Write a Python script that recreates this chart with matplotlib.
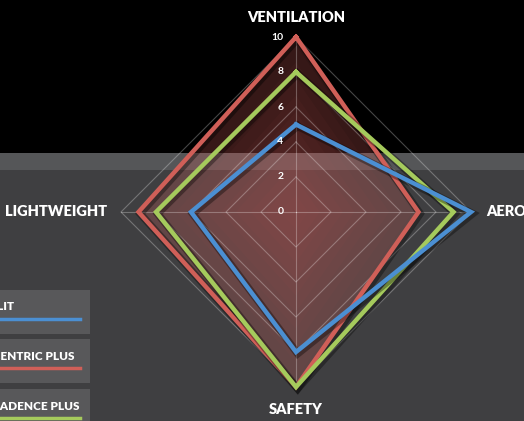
import numpy as np
import matplotlib
matplotlib.use("Agg")
import matplotlib.pyplot as plt
import matplotlib.patheffects as pe
from matplotlib.patches import Rectangle

# chart data
categories = ['VENTILATION', 'AERO', 'SAFETY', 'LIGHTWEIGHT']
series_names = ['SPLIT', 'CONCENTRIC PLUS', 'CADENCE PLUS']
split = [5, 10, 8, 6]
concentric_plus = [10, 7, 10, 9]
cadence_plus = [8, 9, 10, 8]
r_ticks = [0, 2, 4, 6, 8, 10]

BLUE = '#4b8fd2'
RED = '#d05f58'
GREEN = '#a5ca5c'

W, H = 524, 421
fig = plt.figure(figsize=(W / 100, H / 100), dpi=100)
fig.patch.set_facecolor('#3f3f41')

def fy(py):
    # pixel row -> figure fraction
    return 1 - py / H

# background bands
fig.patches.append(Rectangle((0, fy(153)), 1, 153 / H, transform=fig.transFigure,
                             facecolor='black', edgecolor='none', zorder=-10))
fig.patches.append(Rectangle((0, fy(170)), 1, 17 / H, transform=fig.transFigure,
                             facecolor='#555658', edgecolor='none', zorder=-10))

# radar axes, center (296, 212), radius 175 px
cx, cy, rad = 296, 212, 175
ax = fig.add_axes([(cx - rad) / W, fy(cy + rad), 2 * rad / W, 2 * rad / H], projection='polar')
ax.set_facecolor('none')
ax.set_theta_zero_location('N')
ax.set_theta_direction(-1)
ax.set_ylim(0, 10)
ax.grid(False)
ax.spines['polar'].set_visible(False)
ax.set_xticks([])
ax.set_yticks([])

theta = np.arange(len(categories)) * 2 * np.pi / len(categories)
tc = np.append(theta, theta[0])

def closed(v):
    return np.append(v, v[0])

# diamond grid + spokes
for r in r_ticks[1:]:
    ax.plot(tc, [r] * 5, color='white', alpha=0.28, lw=0.8, zorder=1, clip_on=False)
for t in theta:
    ax.plot([t, t], [0, 10], color='white', alpha=0.28, lw=0.8, zorder=1, clip_on=False)

# gradient-ish fill of the red series
red_v = closed(concentric_plus)
ax.fill(tc, red_v, color=RED, alpha=0.24, lw=0, zorder=0.5)
for s in np.linspace(0.95, 0.1, 10):
    ax.fill(tc, red_v * s, color=RED, alpha=0.035, lw=0, zorder=0.5)

shadow = [pe.SimpleLineShadow(offset=(1.2, -1.2), shadow_color='black', alpha=0.35, linewidth=5.5),
          pe.Normal()]
for vals, col in [(concentric_plus, RED), (cadence_plus, GREEN), (split, BLUE)]:
    ax.plot(tc, closed(vals), color=col, lw=3.2, solid_joinstyle='miter',
            zorder=3, clip_on=False, path_effects=shadow)

# radial tick labels
for r in r_ticks:
    ax.annotate(str(r), xy=(0, r), xytext=(-9, 0), textcoords='offset points',
                ha='right', va='center', color='white', fontsize=7.5,
                fontweight='bold', family='Lato', zorder=4, annotation_clip=False)

# category labels
lab = dict(color='white', fontsize=10.5, fontweight='heavy', family='Lato')
fig.text(cx / W, fy(17), categories[0], ha='center', va='center', **lab)
fig.text(486 / W, fy(212), categories[1], ha='left', va='center', **lab)
fig.text(cx / W, fy(410), categories[2], ha='center', va='center', **lab)
fig.text(107 / W, fy(212), categories[3], ha='right', va='center', **lab)

# legend boxes (partly off the left edge)
box_tops = [290, 339, 389]
text_ends = [15, 74, 80]
for name, col, top, te in zip(series_names, [BLUE, RED, GREEN], box_tops, text_ends):
    fig.patches.append(Rectangle((0, fy(top + 44)), 90 / W, 44 / H, transform=fig.transFigure,
                                 facecolor='#58585a', edgecolor='none', zorder=-5))
    fig.text(te / W, fy(top + 17), name, ha='right', va='center', color='white',
             fontsize=8.5, fontweight='heavy', family='Lato')
    fig.lines.append(plt.Line2D([0, 80 / W], [fy(top + 29)] * 2, transform=fig.transFigure,
                                color=col, lw=2.5))

fig.savefig('out.png', dpi=100, facecolor=fig.get_facecolor())
